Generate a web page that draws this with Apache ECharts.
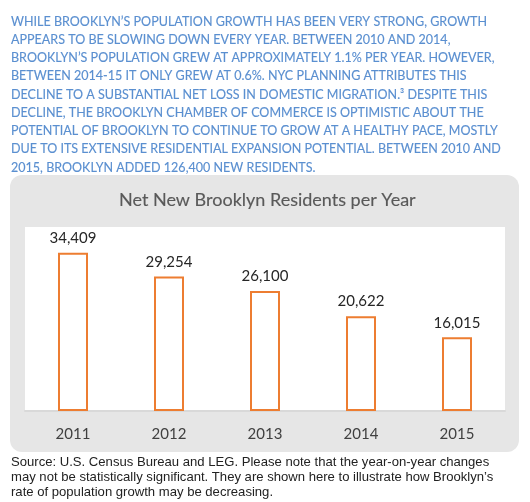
<!DOCTYPE html>
<html>
<head>
<meta charset="utf-8">
<script src="https://cdn.jsdelivr.net/npm/echarts@6/dist/echarts.min.js"></script>
<style>
  html, body { margin: 0; padding: 0; background: #fff; }
  #chart { width: 530px; height: 502px; }
</style>
</head>
<body>
<div id="chart"></div>
<script>
// data
var years = ['2011', '2012', '2013', '2014', '2015'];
var newResidents = [34409, 29254, 26100, 20622, 16015];

var introLines = [
	'WHILE BROOKLYN\u2019S POPULATION GROWTH HAS BEEN VERY STRONG, GROWTH',
	'APPEARS TO BE SLOWING DOWN EVERY YEAR. BETWEEN 2010 AND 2014,',
	'BROOKLYN\u2019S POPULATION GREW AT APPROXIMATELY 1.1% PER YEAR. HOWEVER,',
	'BETWEEN 2014-15 IT ONLY GREW AT 0.6%. NYC PLANNING ATTRIBUTES THIS',
	'DECLINE TO A SUBSTANTIAL NET LOSS IN DOMESTIC MIGRATION.\u00b3 DESPITE THIS',
	'DECLINE, THE BROOKLYN CHAMBER OF COMMERCE IS OPTIMISTIC ABOUT THE',
	'POTENTIAL OF BROOKLYN TO CONTINUE TO GROW AT A HEALTHY PACE, MOSTLY',
	'DUE TO ITS EXTENSIVE RESIDENTIAL EXPANSION POTENTIAL. BETWEEN 2010 AND',
	'2015, BROOKLYN ADDED 126,400 NEW RESIDENTS.'
];
var sourceLines = [
	'Source: U.S. Census Bureau and LEG. Please note that the year-on-year changes',
	'may not be statistically significant. They are shown here to illustrate how Brooklyn\u2019s',
	'rate of population growth may be decreasing.'
];

// the original uses a narrow Calibri-like face; squeeze Lato to the same line width
var introFont = '14px Lato';
var ctx = document.createElement('canvas').getContext('2d');
ctx.font = introFont;
var introScale = 476 / ctx.measureText(introLines[0]).width;

var chart = echarts.init(document.getElementById('chart'));

chart.setOption({
	animation: false,
	title: {
		text: 'Net New Brooklyn Residents per Year',
		left: 114,
		top: 186,
		textStyle: {
			fontFamily: 'Lato',
			fontSize: 18,
			fontWeight: 'normal',
			color: '#595959',
			textBorderColor: '#595959',
			textBorderWidth: 0.15
		}
	},
	graphic: [
		{
			type: 'rect',
			z: -10,
			shape: { x: 10, y: 175, width: 509, height: 277, r: 12 },
			style: { fill: '#e6e6e6' }
		},
		{
			type: 'text',
			x: 11,
			y: 12,
			scaleX: introScale,
			style: {
				x: 0,
				y: 0,
				text: introLines.join('\n'),
				font: introFont,
				lineHeight: 18.25,
				fill: '#5a8fd0',
				stroke: '#5a8fd0',
				lineWidth: 0.15
			}
		},
		{
			type: 'text',
			left: 11,
			top: 455,
			style: {
				text: sourceLines.join('\n'),
				font: '13.1px "Liberation Sans"',
				lineHeight: 15,
				fill: '#222'
			}
		}
	],
	grid: {
		left: 25,
		right: 25,
		top: 227,
		bottom: 91,
		show: true,
		backgroundColor: '#fff',
		borderWidth: 0
	},
	xAxis: {
		type: 'category',
		data: years,
		axisLine: { lineStyle: { color: '#d9d9d9', width: 2 } },
		axisTick: { show: false },
		axisLabel: {
			margin: 16,
			fontFamily: 'Lato',
			fontSize: 15,
			color: '#404040'
		}
	},
	yAxis: {
		type: 'value',
		min: 0,
		max: 40000,
		show: false,
		splitLine: { show: false }
	},
	series: [{
		type: 'bar',
		data: newResidents,
		barWidth: 30,
		itemStyle: {
			color: '#fff',
			borderColor: '#ed7d31',
			borderWidth: 2
		},
		label: {
			show: true,
			position: 'top',
			distance: 7,
			fontFamily: 'Lato',
			fontSize: 15,
			color: '#262626',
			formatter: function (p) {
				return p.value.toLocaleString('en-US');
			}
		}
	}]
});
</script>
</body>
</html>
